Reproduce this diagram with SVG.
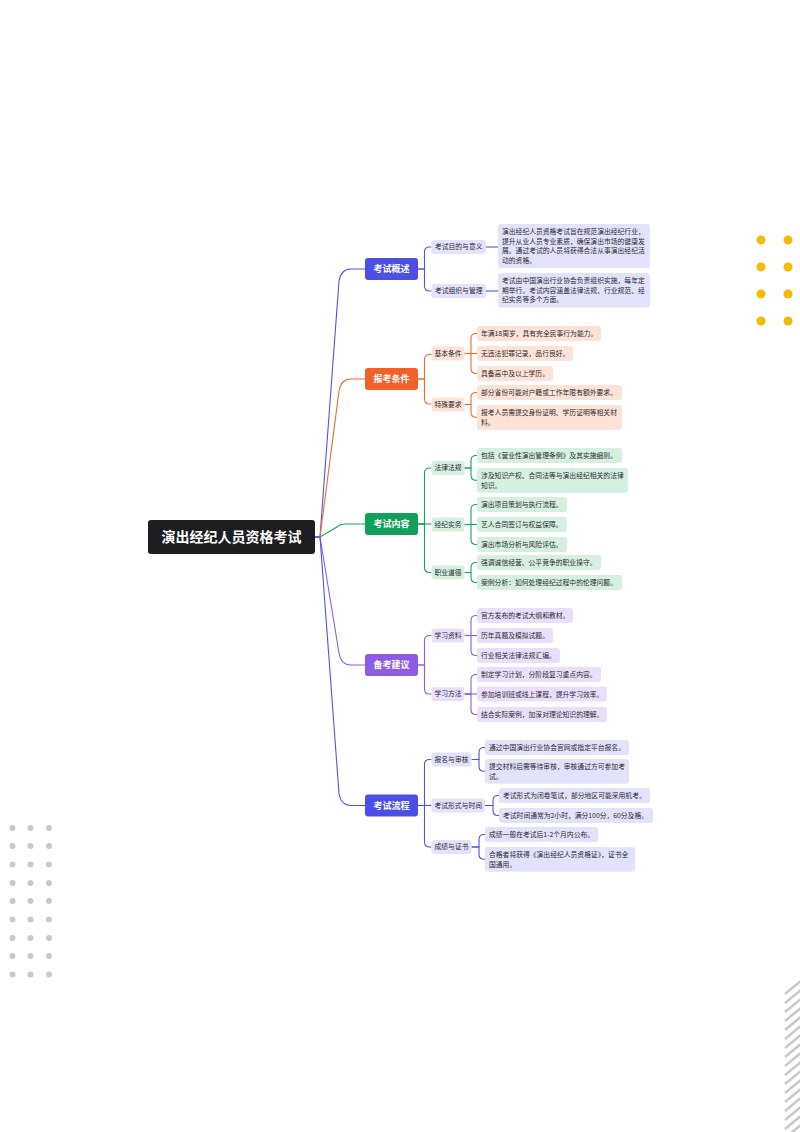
<svg xmlns="http://www.w3.org/2000/svg" width="800" height="1132" viewBox="0 0 800 1132">
<style>
text{font-family:"Noto Sans CJK SC","Noto Sans",sans-serif;}
.root{fill:#1d1e21;}
.rt{fill:#fff;font-size:14px;font-weight:bold;text-anchor:middle;}
.mt{fill:#fff;font-size:9px;font-weight:bold;text-anchor:middle;}
.st{fill:#2b2b33;font-size:6.8px;text-anchor:middle;}
.lt{fill:#2b2b33;font-size:6.8px;}
.c{fill:none;stroke-width:1.1;}
.cb{stroke:#5054e2;} .co{stroke:#ef6a33;} .cg{stroke:#1aa15f;} .cp{stroke:#8d5ce3;} .cb2{stroke:#4f53df;}
.fb{fill:#4b4fe4;} .fo{fill:#f1622b;} .fg{fill:#10a05a;} .fp{fill:#8e5be4;}
.lb{fill:#e2e2fa;} .lo{fill:#fce3d6;} .lg{fill:#d5f0df;} .lp{fill:#e9dffa;}
.yd{fill:#f7b903;} .gd{fill:#c9c9c9;}
.sp{stroke:#c9c9c9;stroke-width:2.6;}
</style>

<!-- decorations -->
<g id="yellow-dots">
<circle class="yd" cx="761" cy="240" r="4.5"/><circle class="yd" cx="788" cy="240" r="4.5"/>
<circle class="yd" cx="761" cy="267" r="4.5"/><circle class="yd" cx="788" cy="267" r="4.5"/>
<circle class="yd" cx="761" cy="294" r="4.5"/><circle class="yd" cx="788" cy="294" r="4.5"/>
<circle class="yd" cx="761" cy="321" r="4.5"/><circle class="yd" cx="788" cy="321" r="4.5"/>
</g>
<g id="gray-dots">
<circle class="gd" cx="12.5" cy="828" r="3"/><circle class="gd" cx="30.5" cy="828" r="3"/><circle class="gd" cx="49" cy="828" r="3"/>
<circle class="gd" cx="12.5" cy="846" r="3"/><circle class="gd" cx="30.5" cy="846" r="3"/><circle class="gd" cx="49" cy="846" r="3"/>
<circle class="gd" cx="12.5" cy="864.5" r="3"/><circle class="gd" cx="30.5" cy="864.5" r="3"/><circle class="gd" cx="49" cy="864.5" r="3"/>
<circle class="gd" cx="12.5" cy="883" r="3"/><circle class="gd" cx="30.5" cy="883" r="3"/><circle class="gd" cx="49" cy="883" r="3"/>
<circle class="gd" cx="12.5" cy="901" r="3"/><circle class="gd" cx="30.5" cy="901" r="3"/><circle class="gd" cx="49" cy="901" r="3"/>
<circle class="gd" cx="12.5" cy="919.5" r="3"/><circle class="gd" cx="30.5" cy="919.5" r="3"/><circle class="gd" cx="49" cy="919.5" r="3"/>
<circle class="gd" cx="12.5" cy="938" r="3"/><circle class="gd" cx="30.5" cy="938" r="3"/><circle class="gd" cx="49" cy="938" r="3"/>
<circle class="gd" cx="12.5" cy="956" r="3"/><circle class="gd" cx="30.5" cy="956" r="3"/><circle class="gd" cx="49" cy="956" r="3"/>
<circle class="gd" cx="12.5" cy="974.5" r="3"/><circle class="gd" cx="30.5" cy="974.5" r="3"/><circle class="gd" cx="49" cy="974.5" r="3"/>
</g>
<g id="stripes">
<line class="sp" x1="785" y1="994" x2="802" y2="980"/>
<line class="sp" x1="785" y1="1003" x2="802" y2="989"/>
<line class="sp" x1="785" y1="1012" x2="802" y2="998"/>
<line class="sp" x1="785" y1="1021" x2="802" y2="1007"/>
<line class="sp" x1="785" y1="1030" x2="802" y2="1016"/>
<line class="sp" x1="785" y1="1039" x2="802" y2="1025"/>
<line class="sp" x1="785" y1="1048" x2="802" y2="1034"/>
<line class="sp" x1="785" y1="1057" x2="802" y2="1043"/>
<line class="sp" x1="785" y1="1066" x2="802" y2="1052"/>
<line class="sp" x1="785" y1="1075" x2="802" y2="1061"/>
<line class="sp" x1="785" y1="1084" x2="802" y2="1070"/>
<line class="sp" x1="785" y1="1093" x2="802" y2="1079"/>
<line class="sp" x1="785" y1="1102" x2="802" y2="1088"/>
<line class="sp" x1="785" y1="1111" x2="802" y2="1097"/>
<line class="sp" x1="785" y1="1120" x2="802" y2="1106"/>
<line class="sp" x1="785" y1="1129" x2="802" y2="1115"/>
<line class="sp" x1="785" y1="1138" x2="802" y2="1124"/>
</g>

<!-- connectors -->
<g id="connectors">
<path class="c cb" d="M315,537 H320 L339,281 Q341,269 351,269 H365"/>
<path class="c co" d="M315,537 H320 L339,391 Q341,379 351,379 H365"/>
<path class="c cg" d="M315,537 H320 L337,527 Q340,524 346,524 H365"/>
<path class="c cp" d="M315,537 H320 L339,653 Q341,665 351,665 H365"/>
<path class="c cb2" d="M315,537 H320 L339,793.5 Q341,805.5 351,805.5 H365"/>

<path class="c cb" d="M418,269 H424.5 V252 Q424.5,247 429.5,247 H431.5"/>
<path class="c cb" d="M418,269 H424.5 V286 Q424.5,291 429.5,291 H431.5"/>
<path class="c cb" d="M486,247 H498"/>
<path class="c cb" d="M486,291 H498"/>

<path class="c co" d="M418,379 H424.5 V359.5 Q424.5,354.5 429.5,354.5 H431.5"/>
<path class="c co" d="M418,379 H424.5 V399 Q424.5,404 429.5,404 H431.5"/>
<path class="c co" d="M464.5,353.5 H471 V338.5 Q471,333.5 476,333.5 H477"/>
<path class="c co" d="M464.5,353.5 H477"/>
<path class="c co" d="M464.5,353.5 H471 V368.5 Q471,373.5 476,373.5 H477"/>
<path class="c co" d="M464.5,404.5 H471 V397.5 Q471,392.5 476,392.5 H477"/>
<path class="c co" d="M464.5,404.5 H471 V412.3 Q471,417.3 476,417.3 H477"/>

<path class="c cg" d="M418,524 H424.5 V473 Q424.5,468 429.5,468 H431.5"/>
<path class="c cg" d="M418,524 H431.5"/>
<path class="c cg" d="M418,524 H424.5 V567.5 Q424.5,572.5 429.5,572.5 H431.5"/>
<path class="c cg" d="M464.5,468 H471 V460.5 Q471,455.5 476,455.5 H477"/>
<path class="c cg" d="M464.5,468 H471 V475.3 Q471,480.3 476,480.3 H477"/>
<path class="c cg" d="M464.5,524.5 H471 V509.5 Q471,504.5 476,504.5 H477"/>
<path class="c cg" d="M464.5,524.5 H477"/>
<path class="c cg" d="M464.5,524.5 H471 V539.5 Q471,544.5 476,544.5 H477"/>
<path class="c cg" d="M464.5,572.5 H471 V567.5 Q471,562.5 476,562.5 H477"/>
<path class="c cg" d="M464.5,572.5 H471 V577.5 Q471,582.5 476,582.5 H477"/>

<path class="c cp" d="M418,665 H424.5 V640.5 Q424.5,635.5 429.5,635.5 H431.5"/>
<path class="c cp" d="M418,665 H424.5 V689 Q424.5,694 429.5,694 H431.5"/>
<path class="c cp" d="M464.5,635.5 H471 V620.5 Q471,615.5 476,615.5 H477"/>
<path class="c cp" d="M464.5,635.5 H477"/>
<path class="c cp" d="M464.5,635.5 H471 V650.5 Q471,655.5 476,655.5 H477"/>
<path class="c cp" d="M464.5,694 H471 V679.5 Q471,674.5 476,674.5 H477"/>
<path class="c cp" d="M464.5,694 H477"/>
<path class="c cp" d="M464.5,694 H471 V709.5 Q471,714.5 476,714.5 H477"/>

<path class="c cb2" d="M418,805.5 H424.5 V764.5 Q424.5,759.5 429.5,759.5 H431.5"/>
<path class="c cb2" d="M418,805.5 H431.5"/>
<path class="c cb2" d="M418,805.5 H424.5 V842 Q424.5,847 429.5,847 H431.5"/>
<path class="c cb2" d="M471.5,759.5 H479 V752.5 Q479,747.5 484,747.5 H485"/>
<path class="c cb2" d="M471.5,759.5 H479 V766.3 Q479,771.3 484,771.3 H485"/>
<path class="c cb2" d="M485,805.5 H493 V800.5 Q493,795.5 498,795.5 H499"/>
<path class="c cb2" d="M485,805.5 H493 V810.5 Q493,815.5 498,815.5 H499"/>
<path class="c cb2" d="M471.5,847 H479 V839.5 Q479,834.5 484,834.5 H485"/>
<path class="c cb2" d="M471.5,847 H479 V854.3 Q479,859.3 484,859.3 H485"/>
</g>

<!-- root -->
<g id="root">
<rect class="root" x="148" y="520" width="167" height="34" rx="3"/>
<text class="rt" x="231.5" y="542">演出经纪人员资格考试</text>
</g>

<!-- 考试概述 -->
<g id="n-gaishu">
<rect class="fb" x="365" y="258" width="53" height="22" rx="3"/>
<text class="mt" x="391.5" y="272.2">考试概述</text>
</g>
<g id="n-mudi">
<rect class="lb" x="431.5" y="240" width="54.5" height="14" rx="3"/>
<text class="st" x="458.7" y="249.4">考试目的与意义</text>
</g>
<g id="n-zuzhi">
<rect class="lb" x="431.5" y="284" width="54.5" height="14" rx="3"/>
<text class="st" x="458.7" y="293.4">考试组织与管理</text>
</g>
<g id="l-mudi">
<rect class="lb" x="498" y="224" width="152" height="44.1" rx="3"/>
<text class="lt" x="502" y="234"><tspan x="502">演出经纪人员资格考试旨在规范演出经纪行业，</tspan><tspan x="502" dy="9.7">提升从业人员专业素质，确保演出市场的健康发</tspan><tspan x="502" dy="9.7">展。通过考试的人员将获得合法从事演出经纪活</tspan><tspan x="502" dy="9.7">动的资格。</tspan></text>
</g>
<g id="l-zuzhi">
<rect class="lb" x="498" y="273" width="152" height="34.4" rx="3"/>
<text class="lt" x="502" y="283"><tspan x="502">考试由中国演出行业协会负责组织实施，每年定</tspan><tspan x="502" dy="9.7">期举行。考试内容涵盖法律法规、行业规范、经</tspan><tspan x="502" dy="9.7">纪实务等多个方面。</tspan></text>
</g>

<!-- 报考条件 -->
<g id="n-tiaojian">
<rect class="fo" x="365" y="368" width="53" height="22" rx="3"/>
<text class="mt" x="391.5" y="382.2">报考条件</text>
</g>
<g id="n-jiben">
<rect class="lo" x="431.5" y="346.5" width="33" height="14" rx="3"/>
<text class="st" x="448" y="355.9">基本条件</text>
</g>
<g id="n-teshu">
<rect class="lo" x="431.5" y="397.5" width="33" height="14" rx="3"/>
<text class="st" x="448" y="406.9">特殊要求</text>
</g>
<g id="l-t1"><rect class="lo" x="477" y="326" width="124" height="15" rx="3"/><text class="lt" x="481" y="336">年满18周岁，具有完全民事行为能力。</text></g>
<g id="l-t2"><rect class="lo" x="477" y="346" width="96" height="15" rx="3"/><text class="lt" x="481" y="356">无违法犯罪记录，品行良好。</text></g>
<g id="l-t3"><rect class="lo" x="477" y="366" width="76" height="15" rx="3"/><text class="lt" x="481" y="376">具备高中及以上学历。</text></g>
<g id="l-t4"><rect class="lo" x="477" y="385" width="145" height="15" rx="3"/><text class="lt" x="481" y="395">部分省份可能对户籍或工作年限有额外要求。</text></g>
<g id="l-t5"><rect class="lo" x="477" y="405" width="145" height="24.7" rx="3"/><text class="lt" x="481" y="415"><tspan x="481">报考人员需提交身份证明、学历证明等相关材</tspan><tspan x="481" dy="9.7">料。</tspan></text></g>

<!-- 考试内容 -->
<g id="n-neirong">
<rect class="fg" x="365" y="513" width="53" height="22" rx="3"/>
<text class="mt" x="391.5" y="527.2">考试内容</text>
</g>
<g id="n-falv">
<rect class="lg" x="431.5" y="461" width="33" height="14" rx="3"/>
<text class="st" x="448" y="470.4">法律法规</text>
</g>
<g id="n-shiwu">
<rect class="lg" x="431.5" y="517.5" width="33" height="14" rx="3"/>
<text class="st" x="448" y="526.9">经纪实务</text>
</g>
<g id="n-daode">
<rect class="lg" x="431.5" y="565.5" width="33" height="14" rx="3"/>
<text class="st" x="448" y="574.9">职业道德</text>
</g>
<g id="l-n1"><rect class="lg" x="477" y="448" width="145" height="15" rx="3"/><text class="lt" x="481" y="458">包括《营业性演出管理条例》及其实施细则。</text></g>
<g id="l-n2"><rect class="lg" x="477" y="468" width="151" height="24.7" rx="3"/><text class="lt" x="481" y="478"><tspan x="481">涉及知识产权、合同法等与演出经纪相关的法律</tspan><tspan x="481" dy="9.7">知识。</tspan></text></g>
<g id="l-n3"><rect class="lg" x="477" y="497" width="90" height="15" rx="3"/><text class="lt" x="481" y="507">演出项目策划与执行流程。</text></g>
<g id="l-n4"><rect class="lg" x="477" y="517" width="90" height="15" rx="3"/><text class="lt" x="481" y="527">艺人合同签订与权益保障。</text></g>
<g id="l-n5"><rect class="lg" x="477" y="537" width="90" height="15" rx="3"/><text class="lt" x="481" y="547">演出市场分析与风险评估。</text></g>
<g id="l-n6"><rect class="lg" x="477" y="555" width="124" height="15" rx="3"/><text class="lt" x="481" y="565">强调诚信经营、公平竞争的职业操守。</text></g>
<g id="l-n7"><rect class="lg" x="477" y="575" width="145" height="15" rx="3"/><text class="lt" x="481" y="585">案例分析：如何处理经纪过程中的伦理问题。</text></g>

<!-- 备考建议 -->
<g id="n-beikao">
<rect class="fp" x="365" y="654" width="53" height="22" rx="3"/>
<text class="mt" x="391.5" y="668.2">备考建议</text>
</g>
<g id="n-ziliao">
<rect class="lp" x="431.5" y="628.5" width="33" height="14" rx="3"/>
<text class="st" x="448" y="637.9">学习资料</text>
</g>
<g id="n-fangfa">
<rect class="lp" x="431.5" y="687" width="33" height="14" rx="3"/>
<text class="st" x="448" y="696.4">学习方法</text>
</g>
<g id="l-b1"><rect class="lp" x="477" y="608" width="96" height="15" rx="3"/><text class="lt" x="481" y="618">官方发布的考试大纲和教材。</text></g>
<g id="l-b2"><rect class="lp" x="477" y="628" width="76" height="15" rx="3"/><text class="lt" x="481" y="638">历年真题及模拟试题。</text></g>
<g id="l-b3"><rect class="lp" x="477" y="648" width="83" height="15" rx="3"/><text class="lt" x="481" y="658">行业相关法律法规汇编。</text></g>
<g id="l-b4"><rect class="lp" x="477" y="667" width="124" height="15" rx="3"/><text class="lt" x="481" y="677">制定学习计划，分阶段复习重点内容。</text></g>
<g id="l-b5"><rect class="lp" x="477" y="686.5" width="130" height="15" rx="3"/><text class="lt" x="481" y="696.5">参加培训班或线上课程，提升学习效率。</text></g>
<g id="l-b6"><rect class="lp" x="477" y="707" width="130" height="15" rx="3"/><text class="lt" x="481" y="717">结合实际案例，加深对理论知识的理解。</text></g>

<!-- 考试流程 -->
<g id="n-liucheng">
<rect class="fb" x="365" y="794.5" width="53" height="22" rx="3"/>
<text class="mt" x="391.5" y="808.7">考试流程</text>
</g>
<g id="n-baoming">
<rect class="lb" x="431.5" y="752.5" width="40" height="14" rx="3"/>
<text class="st" x="451.5" y="761.9">报名与审核</text>
</g>
<g id="n-xingshi">
<rect class="lb" x="431.5" y="798.5" width="53.5" height="14" rx="3"/>
<text class="st" x="458.2" y="807.9">考试形式与时间</text>
</g>
<g id="n-chengji">
<rect class="lb" x="431.5" y="840" width="40" height="14" rx="3"/>
<text class="st" x="451.5" y="849.4">成绩与证书</text>
</g>
<g id="l-p1"><rect class="lb" x="485" y="740" width="144" height="15" rx="3"/><text class="lt" x="489" y="750">通过中国演出行业协会官网或指定平台报名。</text></g>
<g id="l-p2"><rect class="lb" x="485" y="759" width="144" height="24.7" rx="3"/><text class="lt" x="489" y="769"><tspan x="489">提交材料后需等待审核，审核通过方可参加考</tspan><tspan x="489" dy="9.7">试。</tspan></text></g>
<g id="l-p3"><rect class="lb" x="499" y="788" width="151" height="15" rx="3"/><text class="lt" x="503" y="798">考试形式为闭卷笔试，部分地区可能采用机考。</text></g>
<g id="l-p4"><rect class="lb" x="499" y="808" width="154" height="15" rx="3"/><text class="lt" x="503" y="818">考试时间通常为2小时，满分100分，60分及格。</text></g>
<g id="l-p5"><rect class="lb" x="485" y="827" width="113" height="15" rx="3"/><text class="lt" x="489" y="837">成绩一般在考试后1-2个月内公布。</text></g>
<g id="l-p6"><rect class="lb" x="485" y="847" width="150" height="24.7" rx="3"/><text class="lt" x="489" y="857"><tspan x="489">合格者将获得《演出经纪人员资格证》，证书全</tspan><tspan x="489" dy="9.7">国通用。</tspan></text></g>
</svg>
